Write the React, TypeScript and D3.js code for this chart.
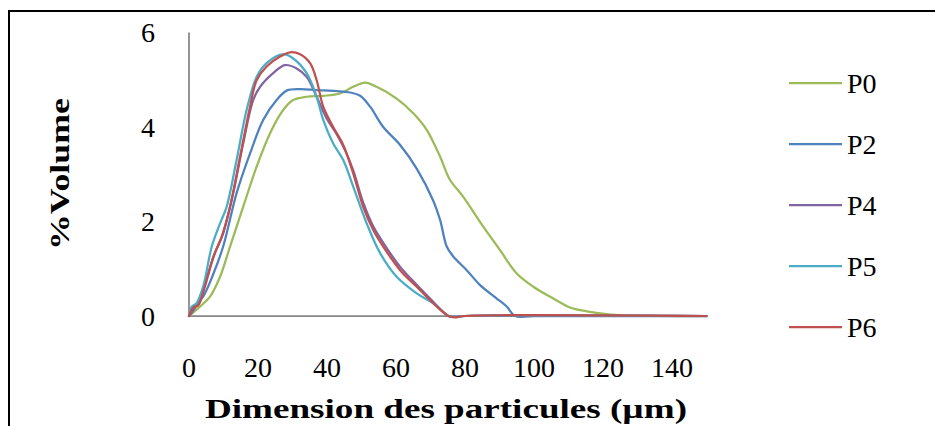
import React from "react";
import * as d3 from "d3";

type Pt = [number, number];

const seriesNames = ["P0", "P2", "P4", "P5", "P6"];
const seriesColors = ["#9BBB59", "#4F81BD", "#8064A2", "#4BACC6", "#C0504D"];

const P0: Pt[] = [
  [0, 0], [3.2, 0.2], [6.1, 0.41], [9, 0.83], [11.9, 1.47], [15.7, 2.31], [19.6, 3.16],
  [23.5, 3.87], [27.3, 4.36], [30.2, 4.57], [34.1, 4.64], [38.9, 4.66], [43.8, 4.71],
  [47.6, 4.85], [51, 4.94], [54.4, 4.85], [60.2, 4.6], [65, 4.29], [68.9, 3.94],
  [72.8, 3.37], [75.5, 2.9], [79.5, 2.52], [85.3, 1.89], [90.1, 1.4], [95, 0.9],
  [99.8, 0.62], [105.6, 0.37], [110.4, 0.18], [115.3, 0.1], [121, 0.04], [127, 0.01],
  [135, 0], [150, 0],
];

const P2: Pt[] = [
  [0, 0], [1.6, 0.2], [4.1, 0.41], [7.1, 0.9], [9.9, 1.47], [13.8, 2.6], [17.7, 3.44],
  [21.5, 4.15], [25.4, 4.57], [28.3, 4.77], [32.2, 4.8], [37, 4.78], [42.8, 4.76],
  [46.7, 4.73], [49.6, 4.66], [52.5, 4.43], [56.3, 4.0], [61.2, 3.62], [66, 3.12],
  [70.8, 2.44], [72.8, 2.03], [74.7, 1.47], [76.6, 1.26], [80.5, 0.97], [84.3, 0.66],
  [89.2, 0.37], [92.1, 0.2], [94.5, 0], [100, 0], [150, 0],
];

const P4: Pt[] = [
  [0, 0], [2.2, 0.23], [4.6, 0.69], [7.5, 1.33], [9.9, 1.75], [12.8, 2.6], [15.7, 3.65],
  [18.6, 4.57], [20.6, 4.85], [24.4, 5.14], [27.8, 5.31], [31.2, 5.24], [34.1, 5.06],
  [37, 4.64], [39.9, 4.18], [42.8, 3.85], [45.3, 3.5], [47.6, 3.08], [50.5, 2.4],
  [53.4, 1.9], [56.3, 1.55], [61.2, 1.04], [66, 0.66], [70.8, 0.3], [75.2, 0],
  [77, -0.02], [80, 0], [150, 0],
];

const P5: Pt[] = [
  [0, 0], [0.8, 0.2], [2.2, 0.27], [4.1, 0.62], [6.6, 1.47], [9, 1.96], [10.9, 2.31],
  [13.8, 3.3], [16.7, 4.36], [19.6, 5.06], [22.5, 5.35], [27.3, 5.54], [30.2, 5.45],
  [34.1, 5.14], [37, 4.64], [38.9, 4.15], [41.8, 3.65], [44.7, 3.3], [47.6, 2.74],
  [51.5, 1.96], [55.4, 1.33], [60.2, 0.83], [66, 0.48], [70.8, 0.27], [75.2, 0],
  [77, -0.02], [80, 0], [150, 0],
];

const P6: Pt[] = [
  [0, 0], [1.25, 0.18], [2.7, 0.23], [4.6, 0.62], [7.1, 1.26], [9.5, 1.68], [11.9, 2.31],
  [14.8, 3.37], [17.7, 4.43], [19.6, 4.99], [22.5, 5.28], [26.4, 5.49], [29.3, 5.58],
  [32.2, 5.54], [35.1, 5.35], [37, 4.99], [38.9, 4.43], [41.8, 4.0], [44.7, 3.62],
  [47.6, 3.02], [50.5, 2.31], [53.4, 1.82], [56.3, 1.47], [61.2, 0.97], [66, 0.62],
  [70.8, 0.27], [75.2, 0], [77, -0.03], [80, 0], [150, 0],
];

const seriesData = [P0, P2, P4, P5, P6];

const xTicks = [0, 20, 40, 60, 80, 100, 120, 140];
const yTicks = [0, 2, 4, 6];

const xTitle = "Dimension des particules (µm)";
const yTitle = "%Volume";

const FONT = '"Liberation Serif", "Times New Roman", Tinos, Times, serif';

export default function App() {
  const x = d3.scaleLinear().domain([0, 150]).range([189, 706.5]);
  const y = d3.scaleLinear().domain([0, 6]).range([316, 32.5]);
  const line = d3
    .line<Pt>()
    .x((d) => x(d[0]))
    .y((d) => y(d[1]))
    .curve(d3.curveCatmullRom.alpha(0.5));

  return (
    <svg
      width={935}
      height={426}
      style={{ position: "absolute", left: 0, top: 0, background: "#fff", fontFamily: FONT }}
    >
      <rect x={0} y={0} width={935} height={426} fill="#fff" />
      <rect x={9} y={11} width={950} height={440} fill="none" stroke="#000" strokeWidth={2} />

      <line x1={x(0)} x2={x(0)} y1={y(6)} y2={y(0)} stroke="#868686" strokeWidth={1.75} />
      <line x1={x(0)} x2={x(150)} y1={y(0)} y2={y(0)} stroke="#868686" strokeWidth={1.75} />

      {yTicks.map((t) => (
        <text key={"y" + t} x={155} y={y(t)} dy="0.35em" textAnchor="end" fontSize={28} fill="#000" style={{ fontFamily: FONT }}>
          {t}
        </text>
      ))}
      {xTicks.map((t) => (
        <text key={"x" + t} x={x(t)} y={377} textAnchor="middle" fontSize={28} fill="#000" style={{ fontFamily: FONT }}>
          {t}
        </text>
      ))}

      {seriesData.map((s, i) => (
        <path
          key={seriesNames[i]}
          d={line(s) || ""}
          fill="none"
          stroke={seriesColors[i]}
          strokeWidth={2.25}
          strokeLinejoin="round"
          strokeLinecap="round"
        />
      ))}

      <text
        x={446}
        y={418}
        textAnchor="middle"
        fontSize={28}
        fontWeight="bold"
        textLength={482}
        lengthAdjust="spacingAndGlyphs"
        style={{ fontFamily: FONT }}
      >
        {xTitle}
      </text>
      <text
        transform="translate(69,174) rotate(-90)"
        textAnchor="middle"
        fontSize={28}
        fontWeight="bold"
        textLength={152}
        lengthAdjust="spacingAndGlyphs"
        style={{ fontFamily: FONT }}
      >
        {yTitle}
      </text>

      {seriesNames.map((n, i) => {
        const cy = 83 + i * 61;
        return (
          <g key={"lg" + n}>
            <line x1={789} x2={842} y1={cy} y2={cy} stroke={seriesColors[i]} strokeWidth={2.25} />
            <text x={847} y={cy} dy="0.35em" fontSize={28} fill="#000" style={{ fontFamily: FONT }}>
              {n}
            </text>
          </g>
        );
      })}
    </svg>
  );
}
